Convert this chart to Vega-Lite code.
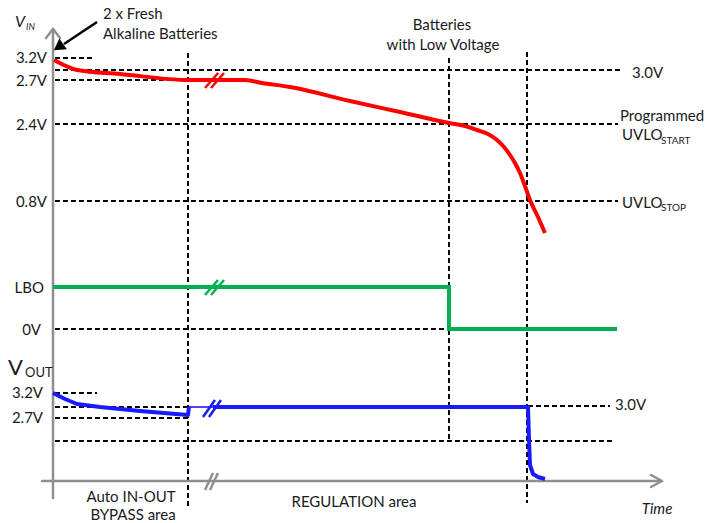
{
  "$schema": "https://vega.github.io/schema/vega-lite/v6.json",
  "width": 708,
  "height": 523,
  "autosize": {"type": "none"},
  "padding": 0,
  "background": "white",
  "config": {"view": {"stroke": null}, "text": {"font": "Lato", "fontSize": 15, "color": "#1a1a1a"}},
  "datasets": {
    "guides": [
      {"t": 55, "t2": 95, "v": 58, "v2": 58},
      {"t": 55, "t2": 620, "v": 70, "v2": 70},
      {"t": 55, "t2": 188, "v": 80, "v2": 80},
      {"t": 55, "t2": 618, "v": 124, "v2": 124},
      {"t": 55, "t2": 618, "v": 201, "v2": 201},
      {"t": 55, "t2": 449, "v": 329, "v2": 329},
      {"t": 55, "t2": 97, "v": 393, "v2": 393},
      {"t": 55, "t2": 188, "v": 407, "v2": 407},
      {"t": 528, "t2": 610, "v": 406, "v2": 406},
      {"t": 55, "t2": 188, "v": 418, "v2": 418},
      {"t": 55, "t2": 613, "v": 441, "v2": 441},
      {"t": 188, "t2": 188, "v": 53, "v2": 508},
      {"t": 449, "t2": 449, "v": 58, "v2": 441},
      {"t": 527, "t2": 527, "v": 52, "v2": 503}
    ],
    "axes": [
      {"t": 53, "t2": 53, "v": 29, "v2": 498},
      {"t": 42, "t2": 661, "v": 481, "v2": 481},
      {"t": 46, "t2": 53, "v": 38, "v2": 29},
      {"t": 53, "t2": 60, "v": 29, "v2": 38},
      {"t": 651, "t2": 662, "v": 475, "v2": 481},
      {"t": 651, "t2": 662, "v": 487, "v2": 481}
    ],
    "breaks": [
      {"series": "VIN", "t": 205, "t2": 218, "v": 88, "v2": 73},
      {"series": "VIN", "t": 211, "t2": 224, "v": 88, "v2": 73},
      {"series": "LBO", "t": 205, "t2": 218, "v": 295, "v2": 280},
      {"series": "LBO", "t": 211, "t2": 224, "v": 295, "v2": 280},
      {"series": "VOUT", "t": 203, "t2": 215, "v": 417, "v2": 400},
      {"series": "VOUT", "t": 209, "t2": 221, "v": 417, "v2": 400},
      {"series": "axis", "t": 205, "t2": 213, "v": 490, "v2": 473},
      {"series": "axis", "t": 210, "t2": 218, "v": 490, "v2": 473}
    ],
    "vin": [
      {"o": 1, "t": 54, "v": 60}, {"o": 2, "t": 66, "v": 66}, {"o": 3, "t": 77, "v": 70},
      {"o": 4, "t": 120, "v": 74}, {"o": 5, "t": 188, "v": 80}, {"o": 6, "t": 245, "v": 80},
      {"o": 7, "t": 262, "v": 83}, {"o": 8, "t": 290, "v": 87}, {"o": 9, "t": 350, "v": 101},
      {"o": 10, "t": 400, "v": 112}, {"o": 11, "t": 449, "v": 123}, {"o": 12, "t": 465, "v": 126},
      {"o": 13, "t": 477, "v": 130}, {"o": 14, "t": 488, "v": 134}, {"o": 15, "t": 497, "v": 140},
      {"o": 16, "t": 504, "v": 147}, {"o": 17, "t": 510, "v": 155}, {"o": 18, "t": 515, "v": 163},
      {"o": 19, "t": 520, "v": 173}, {"o": 20, "t": 525, "v": 186}, {"o": 21, "t": 530, "v": 200},
      {"o": 22, "t": 538, "v": 217}, {"o": 23, "t": 545, "v": 233}
    ],
    "lbo": [
      {"o": 1, "t": 53, "v": 287}, {"o": 2, "t": 449, "v": 287},
      {"o": 3, "t": 449, "v": 329}, {"o": 4, "t": 617, "v": 329}
    ],
    "vout": [
      {"seg": "a", "o": 1, "t": 53, "v": 393}, {"seg": "a", "o": 2, "t": 65, "v": 399},
      {"seg": "a", "o": 3, "t": 77, "v": 404}, {"seg": "a", "o": 4, "t": 100, "v": 407},
      {"seg": "a", "o": 5, "t": 140, "v": 411}, {"seg": "a", "o": 6, "t": 188, "v": 415},
      {"seg": "a", "o": 7, "t": 189, "v": 407},
      {"seg": "b", "o": 8, "t": 213, "v": 407}, {"seg": "b", "o": 9, "t": 528, "v": 407},
      {"seg": "b", "o": 10, "t": 529, "v": 440}, {"seg": "b", "o": 11, "t": 530, "v": 465},
      {"seg": "b", "o": 12, "t": 533, "v": 474}, {"seg": "b", "o": 13, "t": 538, "v": 477},
      {"seg": "b", "o": 14, "t": 545, "v": 479}
    ],
    "connector": [{"t": 189, "t2": 214, "v": 407, "v2": 407}],
    "arrow": [{"t": 97, "t2": 64, "v": 22, "v2": 44}],
    "arrowhead": [{"t": 60, "v": 46}],
    "labelsRight": [
      {"t": 47, "v": 58, "label": "3.2V"},
      {"t": 47, "v": 81, "label": "2.7V"},
      {"t": 47, "v": 125, "label": "2.4V"},
      {"t": 47, "v": 202, "label": "0.8V"},
      {"t": 44, "v": 288, "label": "LBO"},
      {"t": 41, "v": 330, "label": "0V"},
      {"t": 43, "v": 393, "label": "3.2V"},
      {"t": 43, "v": 418, "label": "2.7V"}
    ],
    "labelsLeft": [
      {"t": 103, "v": 14, "label": "2 x Fresh"},
      {"t": 103, "v": 34, "label": "Alkaline Batteries"},
      {"t": 632, "v": 73, "label": "3.0V"},
      {"t": 620, "v": 116, "label": "Programmed"},
      {"t": 622, "v": 135, "label": "UVLO"},
      {"t": 622, "v": 203, "label": "UVLO"},
      {"t": 615, "v": 405, "label": "3.0V"}
    ],
    "labelsCenter": [
      {"t": 442, "v": 25, "label": "Batteries"},
      {"t": 443, "v": 45, "label": "with Low Voltage"},
      {"t": 131, "v": 497, "label": "Auto IN-OUT"},
      {"t": 133, "v": 515, "label": "BYPASS area"},
      {"t": 354, "v": 502, "label": "REGULATION area"}
    ],
    "subs": [
      {"t": 661, "v": 141, "label": "START"},
      {"t": 661, "v": 208, "label": "STOP"}
    ]
  },
  "encoding": {
    "x": {"field": "t", "type": "quantitative", "scale": {"domain": [0, 708], "nice": false, "zero": false}, "axis": null},
    "y": {"field": "v", "type": "quantitative", "scale": {"domain": [0, 523], "nice": false, "zero": false, "reverse": true}, "axis": null}
  },
  "layer": [
    {
      "data": {"name": "guides"},
      "mark": {"type": "rule", "color": "#000000", "strokeWidth": 2, "strokeDash": [5, 3]},
      "encoding": {"x2": {"field": "t2"}, "y2": {"field": "v2"}}
    },
    {
      "data": {"name": "axes"},
      "mark": {"type": "rule", "color": "#8f8f8f", "strokeWidth": 2.5, "strokeCap": "round"},
      "encoding": {"x2": {"field": "t2"}, "y2": {"field": "v2"}}
    },
    {
      "data": {"name": "vin"},
      "mark": {"type": "line", "color": "#ff0000", "strokeWidth": 4, "interpolate": "monotone"},
      "encoding": {"order": {"field": "o"}}
    },
    {
      "data": {"name": "lbo"},
      "mark": {"type": "line", "color": "#00b050", "strokeWidth": 4},
      "encoding": {"order": {"field": "o"}}
    },
    {
      "data": {"name": "connector"},
      "mark": {"type": "rule", "color": "#5a3cff", "strokeWidth": 2},
      "encoding": {"x2": {"field": "t2"}, "y2": {"field": "v2"}}
    },
    {
      "data": {"name": "vout"},
      "mark": {"type": "line", "color": "#1a1aff", "strokeWidth": 4, "strokeJoin": "round"},
      "encoding": {"order": {"field": "o"}, "detail": {"field": "seg"}}
    },
    {
      "data": {"name": "breaks"},
      "mark": {"type": "rule", "strokeWidth": 2.5},
      "encoding": {
        "x2": {"field": "t2"},
        "y2": {"field": "v2"},
        "color": {"field": "series", "type": "nominal", "scale": {"domain": ["VIN", "LBO", "VOUT", "axis"], "range": ["#ff0000", "#00b050", "#1a1aff", "#8f8f8f"]}, "legend": null}
      }
    },
    {
      "data": {"name": "arrow"},
      "mark": {"type": "rule", "color": "#000000", "strokeWidth": 2.5},
      "encoding": {"x2": {"field": "t2"}, "y2": {"field": "v2"}}
    },
    {
      "data": {"name": "arrowhead"},
      "mark": {"type": "point", "shape": "triangle", "filled": true, "color": "#000000", "size": 170, "angle": 235, "opacity": 1}
    },
    {
      "data": {"name": "labelsRight"},
      "mark": {"type": "text", "align": "right", "baseline": "middle"},
      "encoding": {"text": {"field": "label"}}
    },
    {
      "data": {"name": "labelsLeft"},
      "mark": {"type": "text", "align": "left", "baseline": "middle"},
      "encoding": {"text": {"field": "label"}}
    },
    {
      "data": {"name": "labelsCenter"},
      "mark": {"type": "text", "align": "center", "baseline": "middle"},
      "encoding": {"text": {"field": "label"}}
    },
    {
      "data": {"name": "subs"},
      "mark": {"type": "text", "align": "left", "baseline": "middle", "fontSize": 10},
      "encoding": {"text": {"field": "label"}}
    },
    {
      "data": {"values": [{"t": 657, "v": 509, "label": "Time"}]},
      "mark": {"type": "text", "align": "center", "baseline": "middle", "fontStyle": "italic"},
      "encoding": {"text": {"field": "label"}}
    },
    {
      "data": {"values": [{"t": 15, "v": 22, "label": "V"}]},
      "mark": {"type": "text", "align": "left", "baseline": "middle", "fontStyle": "italic", "fontSize": 16},
      "encoding": {"text": {"field": "label"}}
    },
    {
      "data": {"values": [{"t": 26, "v": 27, "label": "IN"}]},
      "mark": {"type": "text", "align": "left", "baseline": "middle", "fontStyle": "italic", "fontSize": 9},
      "encoding": {"text": {"field": "label"}}
    },
    {
      "data": {"values": [{"t": 8, "v": 368, "label": "V"}]},
      "mark": {"type": "text", "align": "left", "baseline": "middle", "fontSize": 22},
      "encoding": {"text": {"field": "label"}}
    },
    {
      "data": {"values": [{"t": 25, "v": 373, "label": "OUT"}]},
      "mark": {"type": "text", "align": "left", "baseline": "middle", "fontSize": 13},
      "encoding": {"text": {"field": "label"}}
    }
  ]
}
